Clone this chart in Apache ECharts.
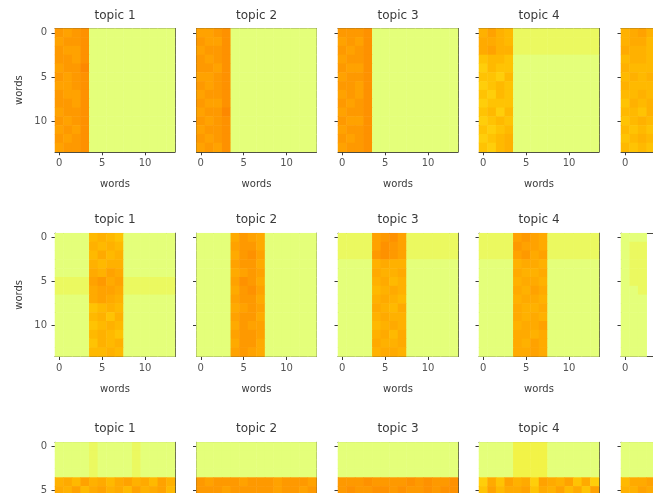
<!DOCTYPE html>
<html><head><meta charset="utf-8">
<script src="https://cdn.jsdelivr.net/npm/echarts@6/dist/echarts.min.js"></script>
<style>html,body{margin:0;padding:0;background:#fff;overflow:hidden}#c{width:780px;height:600px}</style>
</head><body><div id="c"></div>
<script>
// cell categories (word index 0..13)
const words = ['0','1','2','3','4','5','6','7','8','9','10','11','12','13'];
const tickLabels = ['0','5','10'];
const topics = ['topic 1','topic 2','topic 3','topic 4','topic 5'];
// cell intensities (hex digit 0..f per cell), one string per matrix row
const r1t1 = ["cbcd0000000000","bccd0000000000","cbbd0000000000","ccbd0000000000","bcce0000000000","cbcd0000000000","bbcd0000000000","cbbd0000000000","ccbd0000000000","bccd0000000000","cbcd0000000000","bcbd0000000000","cbcd0000000000","bccd0000000000"];
const r1t2 = ["bbcd0000000000","cbbd0000000000","bccd0000000000","cbcd0000000000","ccbd0000000000","bbcd0000000000","cbcd0000000000","bccd0000000000","cbbd0000000000","bcce0000000000","cbcd0000000000","bccd0000000000","cbcd0000000000","bcbd0000000000"];
const r1t3 = ["cccd0000000000","bcbd0000000000","cbcd0000000000","bccd0000000000","cbbd0000000000","bccd0000000000","ccbd0000000000","bcbd0000000000","cbcd0000000000","bccd0000000000","cbbd0000000000","bccd0000000000","cbcd0000000000","bccd0000000000"];
const r1t4 = ["9b981111111111","aa981111111111","ab991111111111","78870000000000","68770000000000","77680000000000","67870000000000","76870000000000","67770000000000","78680000000000","67870000000000","76780000000000","67890000000000","76890000000000"];
const r1t5 = ["9ab9","9aa8","a998","8998","9888","8989","9888","8898","7989","8879","7898","8787","7898","8787"];
const r2t1 = ["00008987000000","00009898000000","00008a89000000","00009899000000","0000a9ba000000","1111bcab111111","1111abba111111","0000aba9000000","00007898000000","00008979000000","00007898000000","00008987000000","00007989000000","00008898000000"];
const r2t2 = ["0000acba000000","0000bcca000000","0000acdb000000","0000bcca000000","0000abcb000000","0000bdca000000","0000acdb000000","0000bcca000000","0000abcb000000","0000bcca000000","0000acbb000000","0000bccb000000","0000acca000000","0000bcba000000"];
const r2t3 = ["1111bcdb111111","1111bdcb111111","1111cdcb111111","00009a99000000","0000a99a000000","00009a89000000","000089a9000000","00009a98000000","0000a98a000000","00009a99000000","000089a9000000","00009a8a000000","0000a99a000000","00009aa9000000"];
const r2t4 = ["1111bcba111111","1111cbba111111","1111bcab111111","00009aa9000000","0000a99a000000","00009aa9000000","0000a9ba000000","00009aa9000000","0000a99a000000","0000a9a9000000","00009aab000000","0000aa9a000000","0000a9ba000000","0000aaba000000"];
const r2t5 = ["000","011","011","011","011","011","001","000","000","000","000","000","000","000"];
const r3t1 = ["00001000010000","00001000010000","00001000010000","00001000010000","9a8b9a8ab9a8b9","a9b8ab9a8b9ab8"];
const r3t2 = ["00000000000000","00000000000000","00000000000000","00000000000000","cbcccbcccbcccb","cccbcccccbccbc"];
const r3t3 = ["00000000000000","00000000000000","00000000000000","00000000000000","cccdccccdcdccd","cdccddcdccdcdd"];
const r3t4 = ["00002222000000","00002222000000","00002222000000","00002222000000","6a7b9a6ba9b7a6","7b8aab7a9b8a7b"];
const r3t5 = ["0000","0000","0000","0000","8aab","99ba"];

const panels = [
  [r1t1, r1t2, r1t3, r1t4, r1t5],
  [r2t1, r2t2, r2t3, r2t4, r2t5],
  [r3t1, r3t2, r3t3, r3t4, r3t5]
];

const colLeft = [55, 196.5, 338, 479, 621];
const rowTop = [28.5, 233.2, 442.3];
const W = 120, H = 123.3;
const ink = '#3a3a3a';
const frame = '#4a4a40';
const showEvery5 = (i) => i % 5 === 0;

const grid = [], xAxis = [], yAxis = [], series = [], title = [];
let gi = 0;
for (let r = 0; r < 3; r++) {
  for (let c = 0; c < 5; c++) {
    grid.push({left: colLeft[c], top: rowTop[r], width: W, height: H, containLabel: false});
    title.push({text: topics[c], left: colLeft[c] + W / 2, top: rowTop[r] - 19, textAlign: 'center', padding: 0,
      textStyle: {fontFamily: 'DejaVu Sans', fontSize: 12, fontWeight: 'normal', color: ink}});
    const showX = r < 2;
    xAxis.push({type: 'category', gridIndex: gi, data: words, position: 'bottom',
      axisLine: {show: true, lineStyle: {color: frame, width: 1}},
      axisTick: {show: true, alignWithLabel: true, interval: (i) => showEvery5(i), length: 3.5, lineStyle: {color: ink}},
      axisLabel: {show: showX, interval: (i) => showEvery5(i), margin: 7, fontFamily: 'DejaVu Sans', fontSize: 10, color: '#555'},
      splitLine: {show: false},
      name: showX ? 'words' : '', nameLocation: 'middle', nameGap: 28,
      nameTextStyle: {fontFamily: 'DejaVu Sans', fontSize: 10, color: ink}});
    xAxis.push({type: 'category', gridIndex: gi, data: words, position: 'top',
      axisLine: {show: true, lineStyle: {color: frame, width: 1}}, axisTick: {show: false}, axisLabel: {show: false}, splitLine: {show: false}});
    yAxis.push({type: 'category', gridIndex: gi, data: words, inverse: true, position: 'left',
      axisLine: {show: true, lineStyle: {color: frame, width: 1}},
      axisTick: {show: true, alignWithLabel: true, interval: (i) => showEvery5(i), length: 3.5, lineStyle: {color: ink}},
      axisLabel: {show: c === 0, interval: (i) => showEvery5(i), margin: 8, fontFamily: 'DejaVu Sans', fontSize: 10, color: '#555'},
      splitLine: {show: false},
      name: (c === 0 && r < 2) ? 'words' : '', nameLocation: 'middle', nameGap: 31,
      nameTextStyle: {fontFamily: 'DejaVu Sans', fontSize: 10, color: ink}});
    yAxis.push({type: 'category', gridIndex: gi, data: words, inverse: true, position: 'right',
      axisLine: {show: true, lineStyle: {color: frame, width: 1}}, axisTick: {show: false}, axisLabel: {show: false}, splitLine: {show: false}});
    const rows = panels[r][c];
    const data = [];
    rows.forEach((s, y) => { for (let x = 0; x < s.length; x++) data.push([x, y, parseInt(s[x], 16)]); });
    series.push({type: 'heatmap', xAxisIndex: gi * 2, yAxisIndex: gi * 2, data: data, progressive: 0,
      itemStyle: {borderWidth: 0}, emphasis: {disabled: true}});
    gi++;
  }
}

const chart = echarts.init(document.getElementById('c'), null, {renderer: 'canvas'});
chart.setOption({
  animation: false,
  backgroundColor: '#ffffff',
  title: title,
  grid: grid,
  xAxis: xAxis,
  yAxis: yAxis,
  visualMap: {type: 'continuous', show: false, min: 0, max: 15, seriesIndex: series.map((s, i) => i),
    inRange: {color: ['#e4ff7a', '#ffe81a', '#ffbd00', '#ffa000', '#fc7f00']}},
  series: series
});
</script></body></html>
